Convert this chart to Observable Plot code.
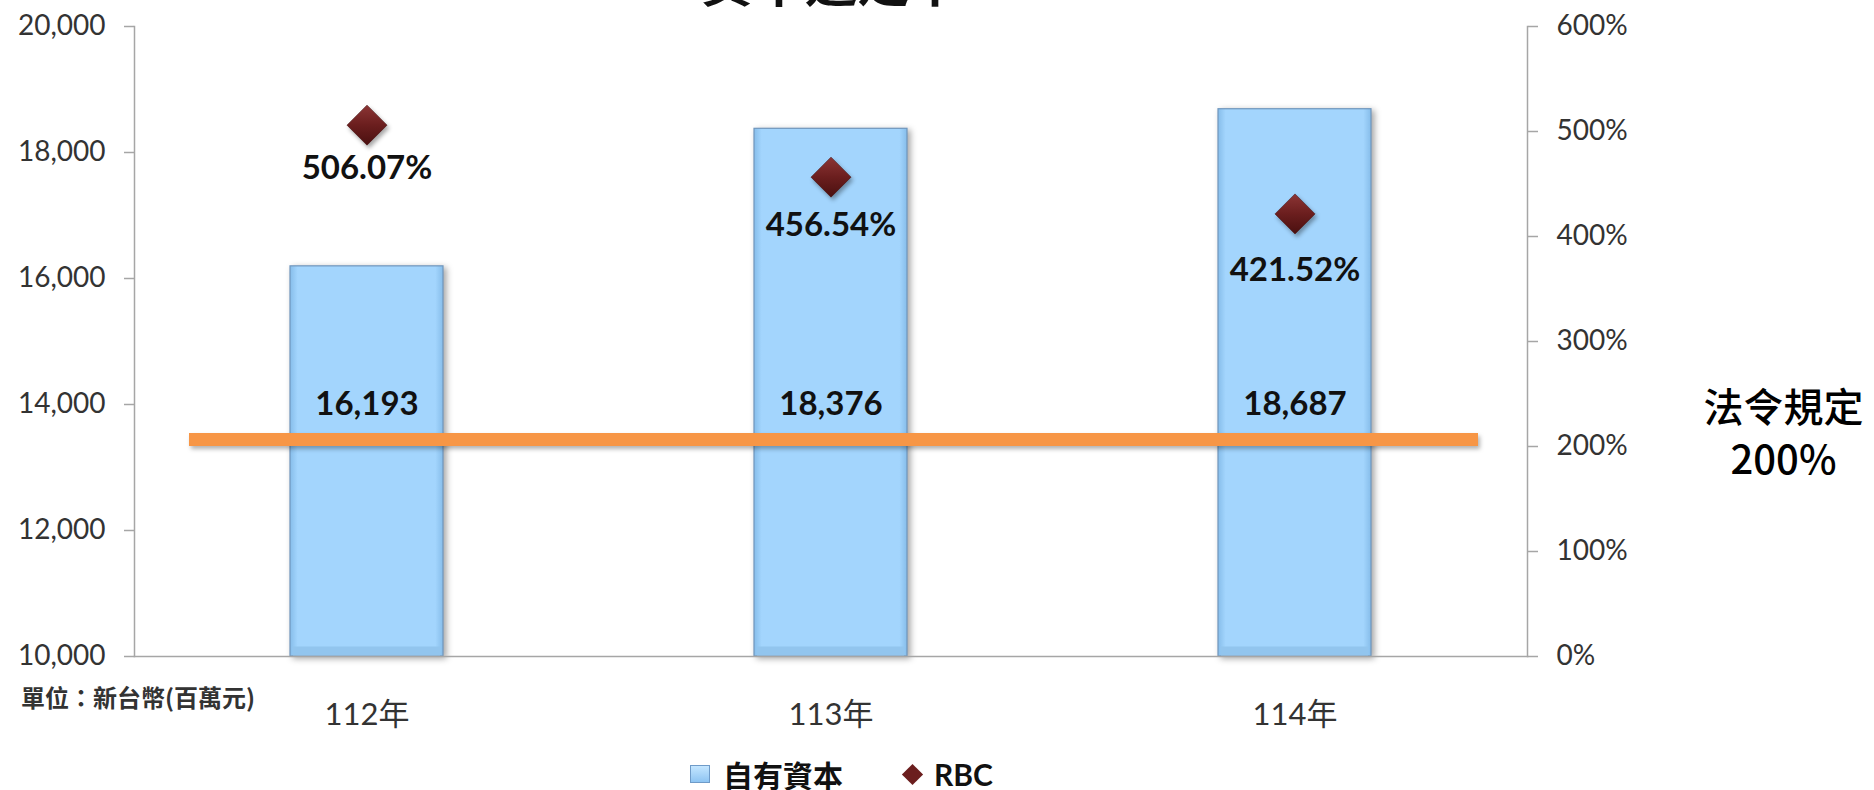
<!DOCTYPE html>
<html>
<head>
<meta charset="utf-8">
<script src="https://cdn.jsdelivr.net/npm/d3@7"></script>
<script src="https://cdn.jsdelivr.net/npm/@observablehq/plot@0.6"></script>
<style>
  html, body { margin: 0; padding: 0; background: #fff; }
  #wrap { position: relative; width: 1874px; height: 790px; overflow: hidden; background: #fff; }
  #wrap svg { display: block; }
  g[aria-label="bar"] rect { filter: drop-shadow(3px 2px 3px rgba(0,0,0,0.35)); }
  g[aria-label="rule"] line { filter: drop-shadow(2px 3px 2px rgba(0,0,0,0.3)); }
  g[aria-label="dot"] path { filter: drop-shadow(2px 3px 2px rgba(0,0,0,0.35)); }
  #unit { position: absolute; left: 21px; top: 682px; line-height: 30px; font-size: 24px; font-weight: bold;
          color: #333; font-family: "Noto Sans CJK TC", sans-serif; white-space: nowrap; }
  #legend { position: absolute; left: 690px; top: 759px; height: 30px; display: flex; align-items: center;
            font-family: "Lato", "Noto Sans CJK TC", sans-serif; font-size: 30px; font-weight: bold; color: #111; white-space: nowrap; }
  #legend .sq { width: 18px; height: 16px; background: linear-gradient(#c4e6ff, #8ec4f2); border: 1px solid #6f9bc8; margin-right: 13px; }
  #legend .dm { width: 15px; height: 15px; background: #6b1e1e; transform: rotate(45deg); margin-left: 62px; margin-right: 14px; }
</style>
</head>
<body>
<div id="wrap">
  <div id="chart"></div>
  <div id="unit">單位：新台幣(百萬元)</div>
  <div id="legend"><span class="sq"></span><span>自有資本</span><span class="dm"></span><span>RBC</span></div>
</div>
<script>
const title = "資本適足率";
const years = ["112年", "113年", "114年"];
const ownCapital = [16193, 18376, 18687];
const rbcRatio = [506.07, 456.54, 421.52];
const requiredRatio = 200;
const regulationLabel = "法令規定\n200%";
const leftTicks = [10000, 12000, 14000, 16000, 18000, 20000];
const rightTicks = [0, 100, 200, 300, 400, 500, 600];
const leftDomain = [10000, 20000];
const rightDomain = [0, 600];
const valueLabelLevel = 14000;

const data = years.map((year, i) => ({year, value: ownCapital[i], rbc: rbcRatio[i]}));

// map right-axis percentages onto the left-axis scale
const toLeft = p => leftDomain[0] + (p - rightDomain[0]) / (rightDomain[1] - rightDomain[0]) * (leftDomain[1] - leftDomain[0]);
const fromLeft = v => rightDomain[0] + (v - leftDomain[0]) / (leftDomain[1] - leftDomain[0]) * (rightDomain[1] - rightDomain[0]);

const diamond = {
  draw(context, size) {
    const r = Math.sqrt(size / Math.PI);
    context.moveTo(0, -r);
    context.lineTo(r, 0);
    context.lineTo(0, r);
    context.lineTo(-r, 0);
    context.closePath();
  }
};

const labelOffsets = [43, 48, 57];
const fontLatin = "Lato, 'Noto Sans CJK TC', sans-serif";

const chart = Plot.plot({
  width: 1874,
  height: 750,
  marginTop: 26,
  marginBottom: 94,
  marginLeft: 134,
  marginRight: 347,
  style: {fontFamily: fontLatin, background: "#fff"},
  x: {domain: years, paddingInner: 0.67, paddingOuter: 0.335, axis: null},
  y: {domain: leftDomain, axis: null},
  marks: [
    Plot.text([title], {frameAnchor: "top", lineAnchor: "bottom", dy: -25, fontSize: 52, fontWeight: "bold",
      fontFamily: "'Noto Sans CJK TC', sans-serif", fill: "#111"}),
    Plot.barY(data, {x: "year", y1: leftDomain[0], y2: "value", fill: "url(#barGrad)", stroke: "#7096bd", strokeWidth: 1.2}),
    Plot.tickY(data, {x: "year", y: "value", stroke: "url(#bevelGrad)", strokeWidth: 12, dy: 7, insetLeft: 6, insetRight: 6}),
    Plot.tickY(data, {x: "year", y: leftDomain[0], stroke: "#92c5ee", strokeWidth: 9, dy: -5.5, insetLeft: 3, insetRight: 3}),
    Plot.frame({anchor: "left", stroke: "#a6a6a6", strokeWidth: 1.5}),
    Plot.frame({anchor: "right", stroke: "#a6a6a6", strokeWidth: 1.5}),
    Plot.frame({anchor: "bottom", stroke: "#a6a6a6", strokeWidth: 1.5}),
    Plot.axisY(leftTicks, {anchor: "left", label: null, tickSize: 10, tickPadding: 19, tickFormat: d3.format(","),
      fontSize: 28, stroke: "#a6a6a6", fill: "#333", strokeWidth: 1.5}),
    Plot.axisY(rightTicks.map(toLeft), {anchor: "right", label: null, tickSize: 10, tickPadding: 19,
      tickFormat: v => Math.round(fromLeft(v)) + "%", fontSize: 28, stroke: "#a6a6a6", fill: "#333", strokeWidth: 1.5}),
    Plot.axisX({label: null, tickSize: 0, tickPadding: 46, fontSize: 31, fill: "#333"}),
    Plot.ruleY([toLeft(requiredRatio)], {stroke: "#f79646", strokeWidth: 13, dy: -7, insetLeft: 55, insetRight: 49}),
    Plot.text(data, {x: "year", y: valueLabelLevel, text: d => d3.format(",")(d.value), fontSize: 33, fontWeight: "bold", fill: "#111"}),
    Plot.dot(data, {x: "year", y: d => toLeft(d.rbc), symbol: diamond, r: 20, fill: "url(#diaGrad)", stroke: "#4a1010", strokeWidth: 0.6}),
    ...data.map((d, i) => Plot.text([d], {x: "year", y: d => toLeft(d.rbc), text: d => d.rbc.toFixed(2) + "%",
      dy: labelOffsets[i], fontSize: 33, fontWeight: "bold", fill: "#111"})),
    Plot.text([regulationLabel], {frameAnchor: "right", y: () => toLeft(requiredRatio), dx: 256, dy: -15,
      textAnchor: "middle", lineHeight: 1.3, fontSize: 40, fontWeight: 500, fill: "#000",
      fontFamily: "'Noto Sans CJK TC', sans-serif"})
  ]
});

d3.select(chart).insert("defs", ":first-child").html(`
  <linearGradient id="barGrad" x1="0" x2="1" y1="0" y2="0">
    <stop offset="0" stop-color="#86bdea"/>
    <stop offset="0.05" stop-color="#a3d5fd"/>
    <stop offset="0.95" stop-color="#a3d5fd"/>
    <stop offset="1" stop-color="#86bdea"/>
  </linearGradient>
  <linearGradient id="bevelGrad" x1="0" x2="0" y1="0" y2="1">
    <stop offset="0" stop-color="#b8e2ff"/>
    <stop offset="1" stop-color="#d6f2ff"/>
  </linearGradient>
  <linearGradient id="diaGrad" x1="0" x2="0" y1="0" y2="1">
    <stop offset="0" stop-color="#8c3535"/>
    <stop offset="0.5" stop-color="#6b1e1e"/>
    <stop offset="1" stop-color="#4a1010"/>
  </linearGradient>
`);

document.getElementById("chart").appendChild(chart);
</script>
</body>
</html>
